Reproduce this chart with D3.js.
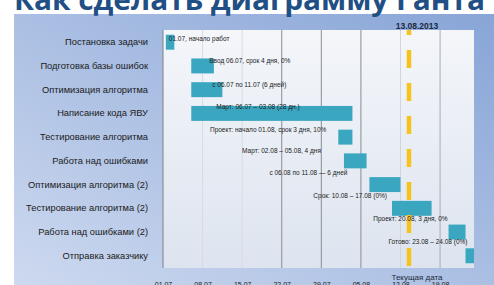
<!DOCTYPE html>
<html><head><meta charset="utf-8">
<script src="https://cdn.jsdelivr.net/npm/d3@7"></script>
<style>html,body{margin:0;padding:0;background:#fff;overflow:hidden}</style>
</head><body>
<script>
const titleText = "Как сделать диаграмму Ганта";
const tasks = ["Постановка задачи","Подготовка базы ошибок","Оптимизация алгоритма","Написание кода ЯВУ","Тестирование алгоритма","Работа над ошибками","Оптимизация алгоритма (2)","Тестирование алгоритма (2)","Работа над ошибками (2)","Отправка заказчику"];
const startDays = [0.5, 5, 5, 5, 31, 32, 36.5, 40.5, 50.5, 53.5];
const durations = [1.5, 4, 5.5, 28.5, 2.5, 4, 5.5, 7, 3, 1.5];
const barLabels = ["01.07, начало работ","Ввод 06.07, срок 4 дня, 0%","с 06.07 по 11.07 (6 дней)","Март: 06.07 – 03.08 (28 дн.)","Проект: начало 01.08, срок 3 дня, 10%","Март: 02.08 – 05.08, 4 дня","с 06.08 по 11.08 — 6 дней","Срок: 10.08 – 17.08 (0%)","Проект: 20.08, 3 дня, 0%","Готово: 23.08 – 24.08 (0%)"];
const tickDays = [0, 7, 14, 21, 28, 35, 42, 49];
const tickLabels = ["01.07","08.07","15.07","22.07","29.07","05.08","12.08","19.08"];
const todayDay = 43.5;
const todayLabel = "13.08.2013";
const todayBottomLabel = "Текущая дата";

// layout (pixels, not data)
const W = 494, H = 285;
const pL = 163, pR = 474, pT = 30, pB = 268;
const labelDx = [3, 18, 21, 25, -12, -23, -22, -5, -1, 2];
const labelDy = [-4, -5, -4.6, -6.4, -7, -10, -11.5, -13, -13, -13.7];
const gridColor = ["#00000000","#d6dbe4","#d6dbe4","#8a8d93","#8a8d93","#8a8d93","#d0d5de","#a9adb4"];

const svg = d3.select("body").append("svg").attr("width", W).attr("height", H);
const defs = svg.append("defs");
const g1 = defs.append("linearGradient").attr("id","panel").attr("x1",1).attr("y1",0).attr("x2",0).attr("y2",1);
g1.append("stop").attr("offset",0).attr("stop-color","#88a5d7");
g1.append("stop").attr("offset",1).attr("stop-color","#cdd9ef");
const g2 = defs.append("linearGradient").attr("id","plot").attr("x1",0).attr("y1",0).attr("x2",0).attr("y2",1);
g2.append("stop").attr("offset",0).attr("stop-color","#f4f6fa");
g2.append("stop").attr("offset",1).attr("stop-color","#dde4ef");

svg.append("rect").attr("x",14).attr("y",14).attr("width",W-14).attr("height",H-14).attr("fill","url(#panel)");

svg.append("text").attr("x",14).attr("y",10).text(titleText)
  .attr("font-family","'Open Sans', 'Liberation Sans', sans-serif").attr("font-weight","bold")
  .attr("font-size",28).attr("fill","#1f4f85")
  .attr("textLength",471).attr("lengthAdjust","spacingAndGlyphs");

const x = d3.scaleLinear().domain([0,55]).range([pL,pR]);
const y = d3.scaleBand().domain(tasks).range([pT,pB]).paddingInner(0.37).paddingOuter(0.2);

svg.append("rect").attr("x",pL).attr("y",pT).attr("width",pR-pL).attr("height",pB-pT).attr("fill","url(#plot)");

svg.append("g").selectAll("line").data(tickDays).join("line")
  .attr("x1",d=>x(d)).attr("x2",d=>x(d)).attr("y1",pT).attr("y2",pB)
  .attr("stroke",(d,i)=>gridColor[i]).attr("stroke-width",1);

svg.append("g").selectAll("rect").data(tasks).join("rect")
  .attr("x",(d,i)=>x(startDays[i])).attr("y",d=>y(d))
  .attr("width",(d,i)=>x(startDays[i]+durations[i])-x(startDays[i]))
  .attr("height",y.bandwidth()).attr("fill","#3aa6c0");

svg.append("line").attr("x1",x(todayDay)).attr("x2",x(todayDay)).attr("y1",pT).attr("y2",pB)
  .attr("stroke","#f6c31c").attr("stroke-width",4.5).attr("stroke-dasharray","18 15").attr("stroke-dashoffset",13);

const lblFont = "'Liberation Sans', Arial, sans-serif";
svg.append("g").selectAll("text").data(tasks).join("text")
  .attr("x",(d,i)=> x(startDays[i]) + labelDx[i])
  .attr("y",(d,i)=> y(d) + y.bandwidth()/2 + labelDy[i] + 2.3)
  .attr("text-anchor",(d,i)=> i<4 ? "start" : "end")
  .attr("font-family",lblFont).attr("font-size",6.5).attr("fill","#1a1a1a")
  .text((d,i)=>barLabels[i]);

svg.append("text").attr("x",x(todayDay)+8).attr("y",29).attr("text-anchor","middle")
  .attr("font-family",lblFont).attr("font-size",8.5).attr("font-weight","bold").attr("fill","#1a2a40").text(todayLabel);
svg.append("text").attr("x",x(todayDay)+8).attr("y",280).attr("text-anchor","middle")
  .attr("font-family",lblFont).attr("font-size",8).attr("fill","#1a2a40").text(todayBottomLabel);

const ya = svg.append("g").attr("transform",`translate(${pL},0)`)
  .call(d3.axisLeft(y).tickSize(0).tickPadding(15));
ya.select(".domain").attr("stroke","#7d8086").attr("d",`M0,${pT}V${pB}`);
ya.selectAll("text").attr("font-family",lblFont).attr("font-size",9.3).attr("fill","#1a1a1a");

const xa = svg.append("g").attr("transform",`translate(0,${pB})`)
  .call(d3.axisBottom(x).tickValues(tickDays).tickFormat((d,i)=>tickLabels[i]).tickSize(0).tickPadding(14));
xa.select(".domain").remove();
xa.selectAll("text").attr("font-family",lblFont).attr("font-size",7).attr("fill","#1a1a1a");
</script>
</body></html>
